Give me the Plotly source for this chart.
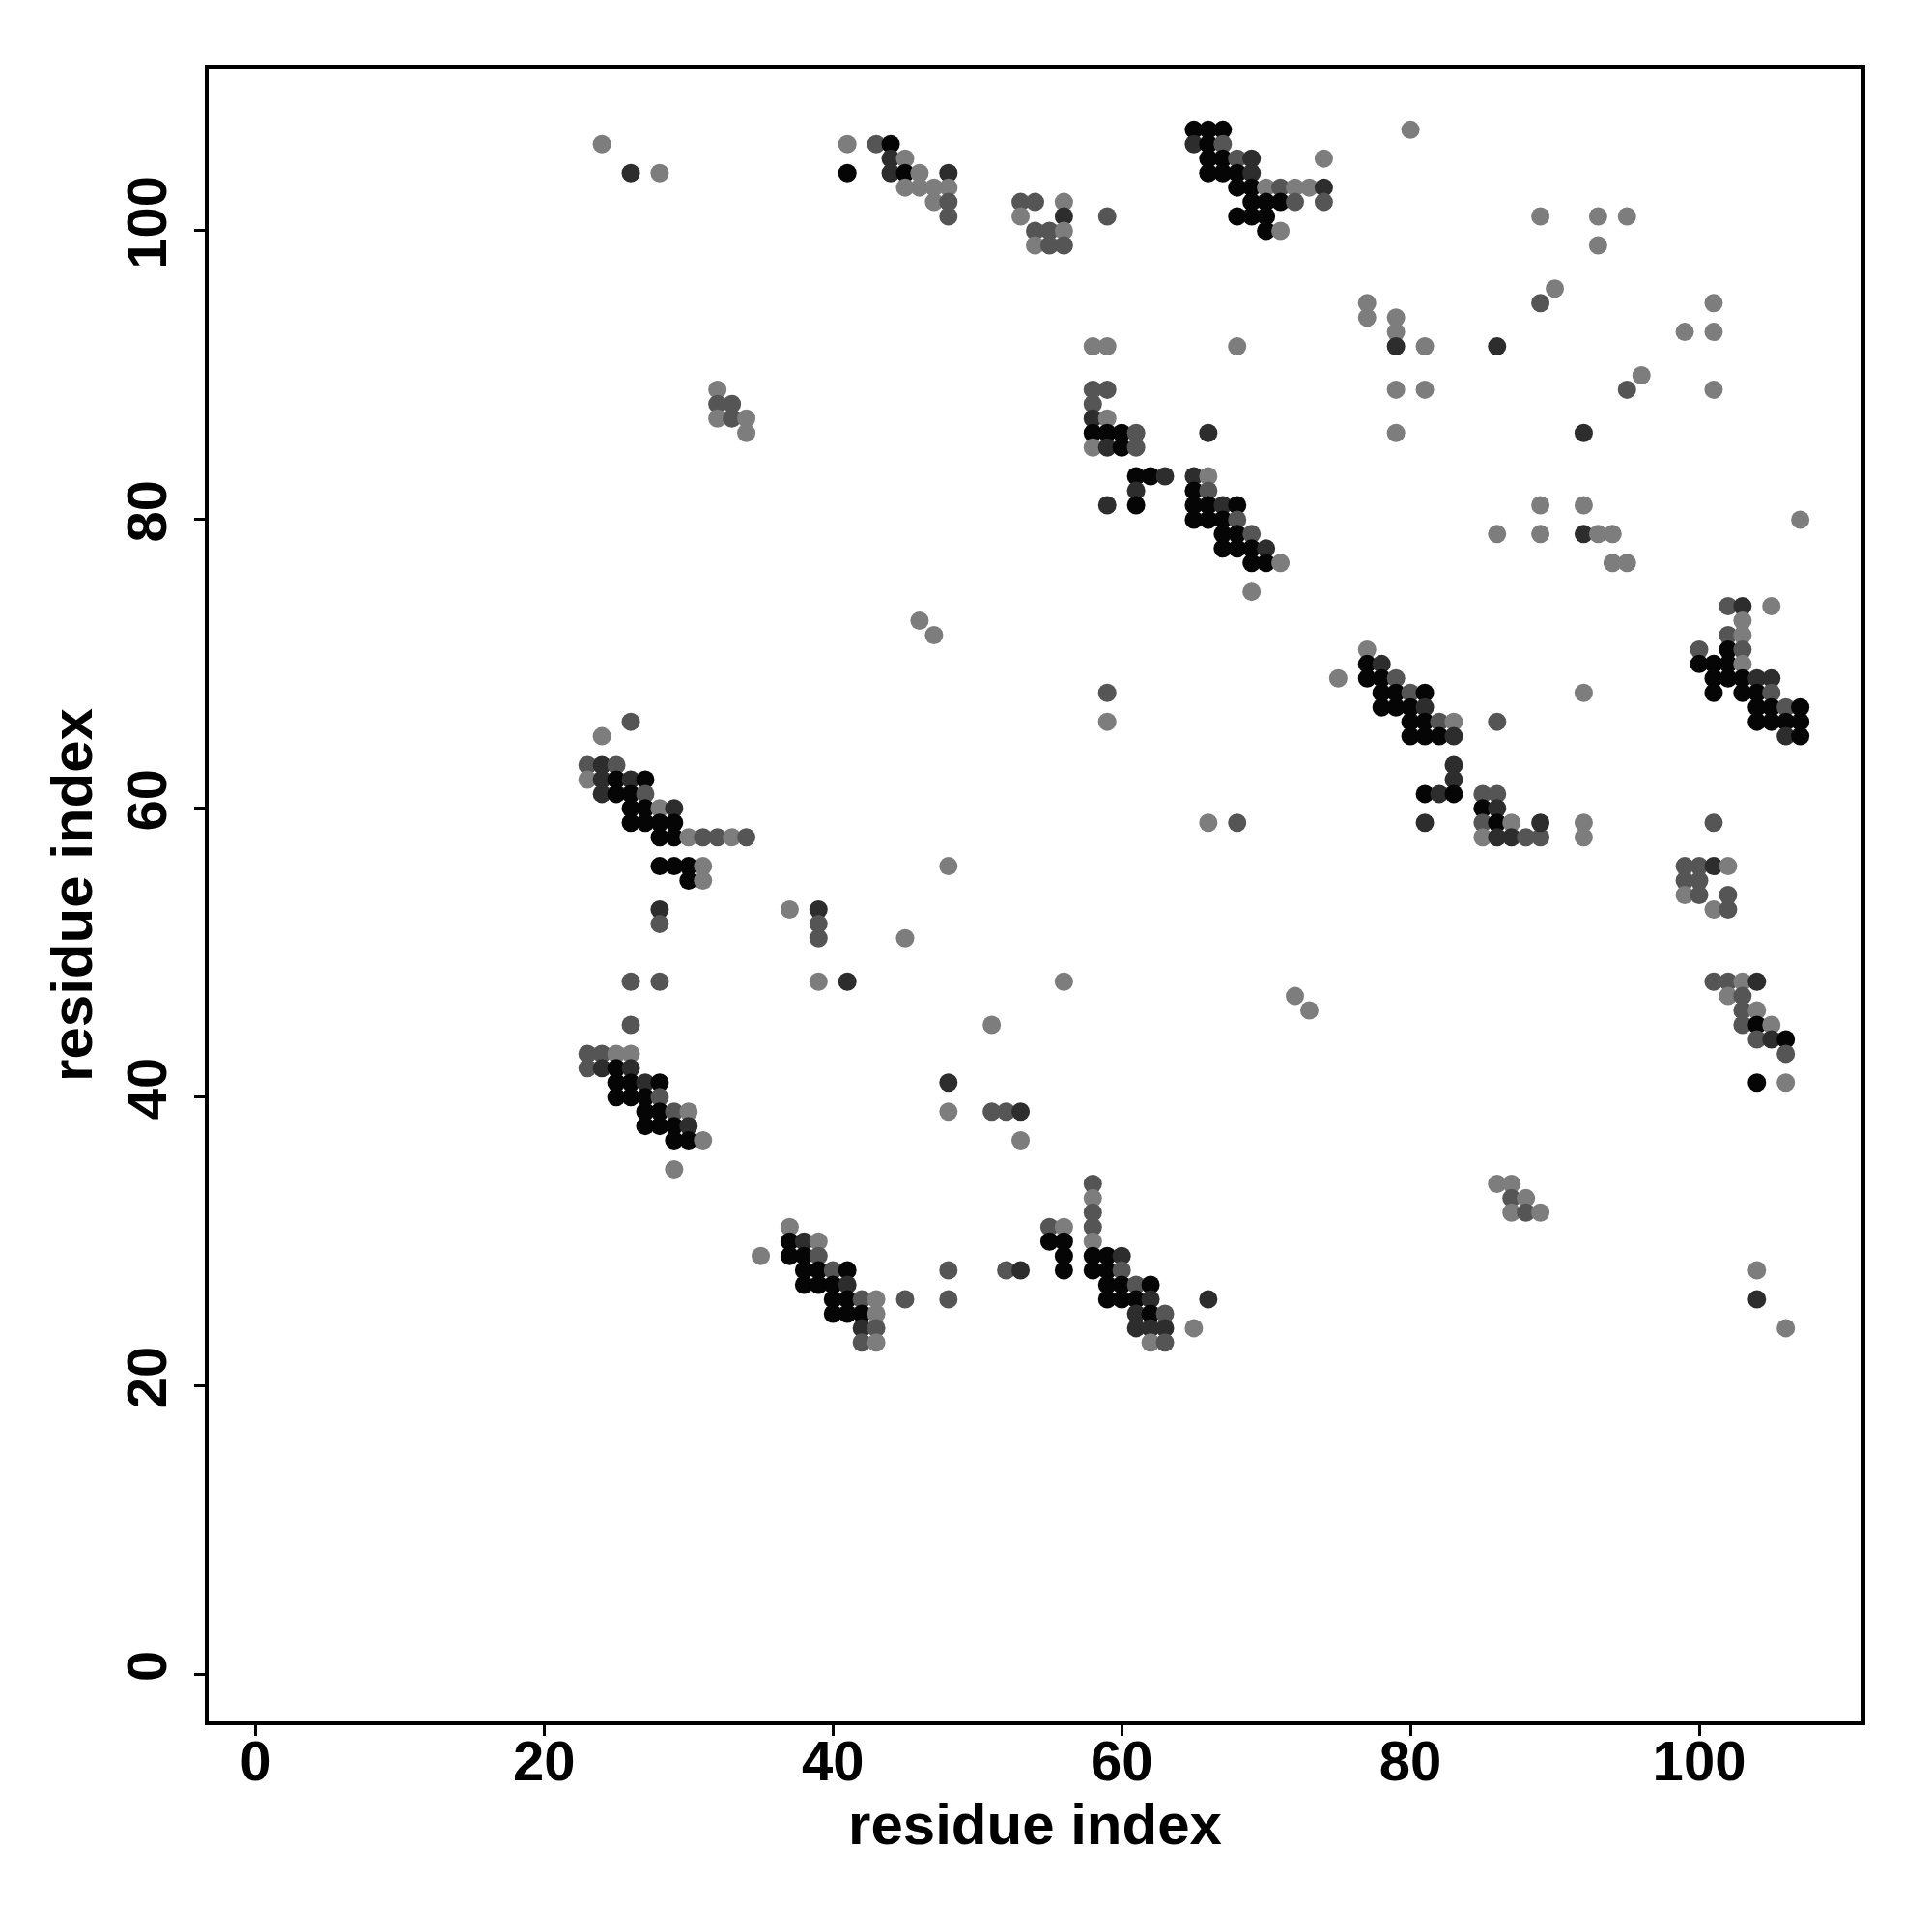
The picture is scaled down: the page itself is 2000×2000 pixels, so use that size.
import plotly.graph_objects as go

# Contact map: residue i, residue j, contact strength (drawn as gray level)
K, D, M, L = 1.0, 0.8, 0.6, 0.4
points = [
    (24,106,L),(26,104,D),(28,104,L),
    (41,106,L),(43,106,M),(44,106,K),(41,104,K),(44,105,D),(45,105,L),(44,104,D),(45,104,K),(46,104,L),(48,104,D),
    (45,103,L),(46,103,L),(47,103,L),(48,103,L),(47,102,L),(48,102,M),(48,101,M),
    (53,102,M),(54,102,M),(56,102,L),(53,101,L),(56,101,D),(54,100,M),(55,100,M),(56,100,L),(54,99,L),(55,99,M),(56,99,M),(59,101,M),
    (65,107,K),(66,107,K),(67,107,K),(65,106,D),(66,106,K),(67,106,M),
    (66,105,K),(67,105,K),(68,105,M),(69,105,D),(74,105,L),
    (66,104,K),(67,104,K),(68,104,K),(69,104,D),
    (68,103,K),(69,103,K),(70,103,L),(71,103,M),(72,103,L),(73,103,L),(74,103,D),
    (69,102,K),(70,102,K),(71,102,K),(72,102,M),(74,102,M),
    (68,101,K),(69,101,K),(70,101,K),(70,100,K),(71,100,L),(80,107,L),
    (89,101,L),(93,101,L),(95,101,L),(93,99,L),(90,96,L),(89,95,M),(101,95,L),(99,93,L),(101,93,L),(96,90,L),(95,89,M),(101,89,L),(92,86,D),
    (77,95,L),(77,94,L),(79,94,L),(79,93,L),(79,92,D),(81,92,L),(86,92,D),(68,92,L),(79,89,L),(81,89,L),(79,86,L),
    (32,89,L),(32,88,M),(33,88,M),(32,87,L),(33,87,M),(34,87,L),(34,86,L),
    (58,92,L),(59,92,L),(58,89,M),(59,89,M),(58,88,M),(58,87,D),(59,87,L),(58,86,K),(59,86,K),(60,86,K),(61,86,M),
    (58,85,L),(59,85,D),(60,85,K),(61,85,M),(61,83,K),(62,83,K),(63,83,D),(61,82,D),(61,81,K),(59,81,D),
    (66,86,D),(65,83,D),(66,83,L),(65,82,K),(66,82,M),(65,81,K),(66,81,K),(67,81,D),(68,81,K),
    (65,80,K),(66,80,K),(67,80,K),(68,80,M),(67,79,K),(68,79,K),(69,79,M),(67,78,K),(68,78,K),(69,78,K),(70,78,D),
    (69,77,K),(70,77,K),(71,77,L),(69,75,L),
    (86,79,L),(89,81,L),(92,81,L),(107,80,L),(89,79,L),(92,79,D),(93,79,L),(94,79,L),(94,77,L),(95,77,L),
    (77,71,L),(75,69,L),(77,70,K),(78,70,D),(77,69,K),(78,69,K),(79,69,M),(78,68,K),(79,68,K),(80,68,M),(81,68,K),
    (78,67,K),(79,67,K),(80,67,K),(81,67,D),(80,66,K),(81,66,K),(82,66,M),(83,66,L),(80,65,K),(81,65,K),(82,65,K),(83,65,D),
    (86,66,M),(83,63,D),(83,62,D),(81,61,K),(82,61,D),(83,61,K),(81,59,D),(92,68,L),
    (85,61,M),(86,61,M),(85,60,K),(86,60,D),(85,59,M),(86,59,K),(87,59,L),(85,58,L),(86,58,D),(87,58,D),(88,58,M),(89,58,M),(89,59,D),
    (92,59,L),(92,58,L),(66,59,L),(68,59,M),
    (102,74,M),(103,74,D),(105,74,L),(103,73,L),(102,72,M),(103,72,L),(100,71,M),(102,71,K),(103,71,M),
    (100,70,K),(101,70,K),(102,70,K),(103,70,L),(101,69,K),(102,69,K),(103,69,K),(104,69,D),(105,69,D),
    (101,68,K),(103,68,K),(104,68,K),(105,68,M),(104,67,K),(105,67,K),(106,67,M),(107,67,K),
    (104,66,K),(105,66,K),(106,66,K),(107,66,K),(106,65,D),(107,65,K),
    (99,56,M),(100,56,M),(101,56,D),(102,56,L),(99,55,M),(100,55,M),(99,54,L),(100,54,M),(102,54,M),(101,53,L),(102,53,M),(101,59,M),
    (101,48,M),(102,48,M),(103,48,L),(104,48,D),(102,47,L),(103,47,M),(103,46,M),(104,46,L),(103,45,M),(104,45,K),(105,45,L),
    (104,44,M),(105,44,D),(106,44,K),(106,43,M),(104,41,K),(106,41,L),(104,28,L),(104,26,D),(106,24,L),
    (26,66,M),(24,65,L),(23,63,M),(24,63,D),(25,63,M),(23,62,L),(24,62,D),(25,62,K),(26,62,D),(27,62,K),
    (24,61,D),(25,61,K),(26,61,K),(27,61,M),(26,60,K),(27,60,K),(28,60,L),(29,60,D),
    (26,59,K),(27,59,K),(28,59,K),(29,59,K),(28,58,K),(29,58,K),(30,58,L),(31,58,M),(32,58,M),(33,58,L),(34,58,M),
    (28,56,K),(29,56,K),(30,56,K),(31,56,L),(30,55,K),(31,55,L),(28,53,D),(28,52,M),(37,53,L),(39,53,D),(39,52,M),(39,51,M),
    (46,73,L),(47,72,L),(59,68,M),(59,66,L),(48,56,L),(45,51,L),(56,48,L),(51,45,L),(48,41,D),(48,39,L),
    (51,39,M),(52,39,M),(53,39,D),(53,37,L),(72,47,L),(73,46,L),(26,48,M),(28,48,M),(39,48,L),(41,48,D),
    (26,45,M),(23,43,M),(24,43,M),(25,43,L),(26,43,L),(23,42,M),(24,42,D),(25,42,K),(26,42,D),
    (25,41,K),(26,41,K),(27,41,D),(28,41,K),(25,40,K),(26,40,K),(27,40,K),(28,40,M),
    (27,39,K),(28,39,K),(29,39,M),(30,39,L),(27,38,K),(28,38,K),(29,38,K),(30,38,D),(29,37,K),(30,37,K),(31,37,L),(29,35,L),
    (37,31,L),(37,30,K),(38,30,D),(39,30,L),(35,29,L),(37,29,K),(38,29,K),(39,29,M),
    (38,28,K),(39,28,K),(40,28,M),(41,28,K),(38,27,K),(39,27,K),(40,27,K),(41,27,D),
    (40,26,K),(41,26,K),(42,26,M),(43,26,L),(40,25,K),(41,25,K),(42,25,K),(43,25,L),(42,24,D),(43,24,M),(42,23,M),(43,23,L),
    (45,26,M),(48,28,M),(48,26,M),
    (58,34,M),(58,33,L),(58,32,M),(58,31,M),(55,31,M),(56,31,L),(58,30,L),(55,30,K),(56,30,K),(56,29,K),(56,28,K),
    (58,29,K),(59,29,K),(60,29,D),(58,28,K),(59,28,K),(60,28,M),(59,27,K),(60,27,K),(61,27,M),(62,27,K),
    (59,26,K),(60,26,K),(61,26,K),(62,26,D),(61,25,D),(62,25,K),(63,25,M),(61,24,D),(62,24,D),(63,24,D),
    (62,23,L),(63,23,M),(65,24,L),(66,26,D),(52,28,M),(53,28,D),
    (86,34,L),(87,34,L),(87,33,M),(88,33,L),(87,32,L),(88,32,M),(89,32,L),
]
res_i = [p[0] for p in points]
res_j = [p[1] for p in points]
strength = [p[2] for p in points]

x_ticks = [0, 20, 40, 60, 80, 100]
y_ticks = [0, 20, 40, 60, 80, 100]

FONT = "Liberation Sans"

fig = go.Figure(go.Scatter(
    x=res_i, y=res_j, mode="markers",
    marker=dict(size=19, color=strength, cmin=0.4, cmax=1.0,
                colorscale=[[0, "rgb(125,125,125)"], [1, "rgb(5,5,5)"]],
                line=dict(width=0), showscale=False),
    hoverinfo="skip",
))

axis_common = dict(
    showgrid=False, zeroline=False,
    showline=True, linecolor="black", linewidth=4, mirror=True,
    ticks="outside", ticklen=11, tickwidth=3, tickcolor="black",
    tickfont=dict(family=FONT, size=58, color="black", weight="bold"),
    range=[-3.24, 111.24],
)

fig.update_layout(
    width=2000, height=2000,
    paper_bgcolor="white", plot_bgcolor="white",
    margin=dict(l=208, r=81, t=63, b=226, autoexpand=False),
    showlegend=False,
    xaxis=dict(**axis_common, tickvals=x_ticks, ticktext=[str(v) for v in x_ticks],
               ticklabelstandoff=-24,
               title=dict(text="residue index", standoff=8,
                          font=dict(family=FONT, size=60, color="black", weight="bold"))),
    yaxis=dict(**axis_common, tickvals=y_ticks, ticktext=[str(v) for v in y_ticks], tickangle=-90,
               ticklabelstandoff=6,
               title=dict(text="residue index", standoff=5,
                          font=dict(family=FONT, size=60, color="black", weight="bold"))),
)

fig.write_html("out.html")
